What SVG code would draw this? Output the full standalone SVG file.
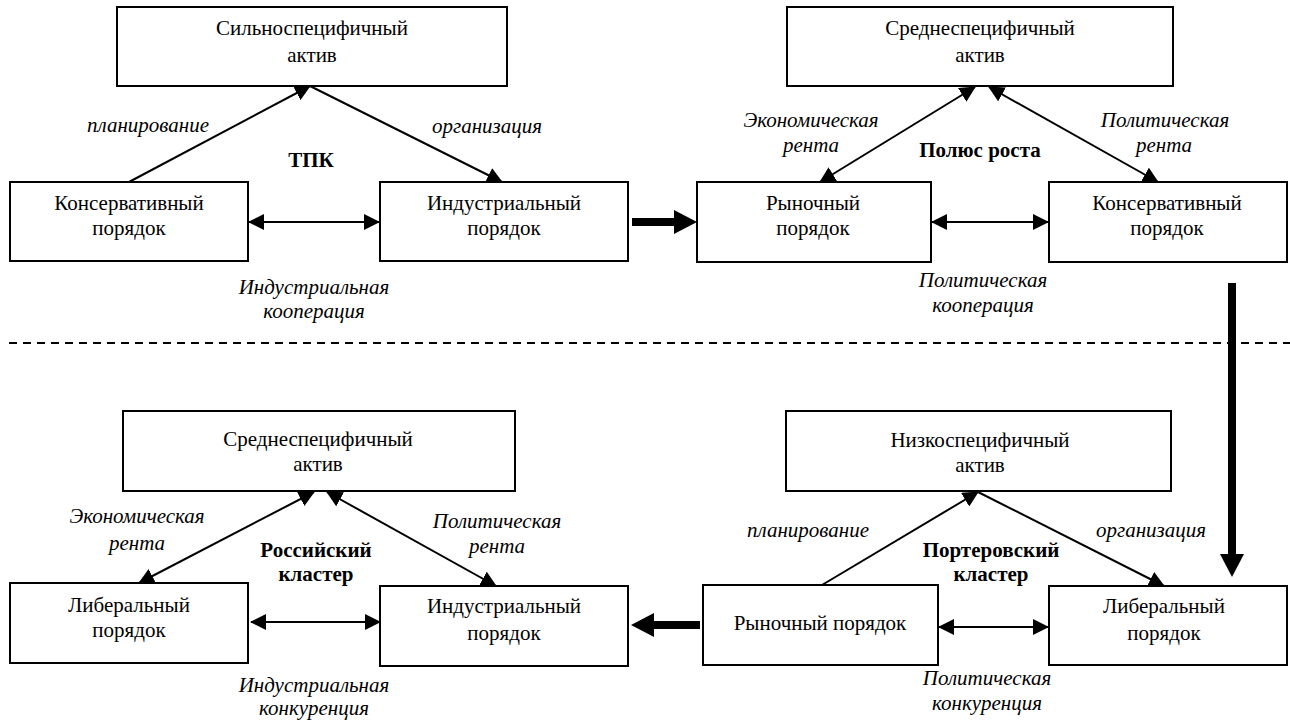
<svg xmlns="http://www.w3.org/2000/svg" width="1290" height="720" viewBox="0 0 1290 720">
<defs>
<marker id="ah" markerUnits="userSpaceOnUse" markerWidth="16" markerHeight="16" viewBox="0 0 16 16" refX="15" refY="8" orient="auto-start-reverse">
<path d="M0,0 L16,8 L0,16 z" fill="#000"/>
</marker>
<marker id="big" markerUnits="userSpaceOnUse" markerWidth="23" markerHeight="24" viewBox="0 0 23 24" refX="2" refY="12" orient="auto">
<path d="M0,0 L23,12 L0,24 z" fill="#000"/>
</marker>
<style>
.box{fill:#fff;stroke:#000;stroke-width:2}
.t{font-size:21px;text-anchor:middle;fill:#000}
.i{font-style:italic}
.b{font-weight:bold}
.c{stroke:#000;stroke-width:2;fill:none}
.thick{stroke:#000;stroke-width:8;fill:none}
</style>
</defs>
<rect width="1290" height="720" fill="#fff"/>

<g id="connectors">
<line class="c" x1="129" y1="182" x2="310" y2="86" marker-end="url(#ah)"/>
<line class="c" x1="310" y1="86" x2="502" y2="182" marker-end="url(#ah)"/>
<line class="c" x1="249" y1="222" x2="379" y2="222" marker-start="url(#ah)" marker-end="url(#ah)"/>
<line class="thick" x1="632" y1="222" x2="676" y2="222" marker-end="url(#big)"/>
<line class="c" x1="820" y1="182" x2="975" y2="87" marker-start="url(#ah)" marker-end="url(#ah)"/>
<line class="c" x1="989" y1="87" x2="1158" y2="182" marker-start="url(#ah)" marker-end="url(#ah)"/>
<line class="c" x1="932" y1="222" x2="1048" y2="222" marker-start="url(#ah)" marker-end="url(#ah)"/>
<line class="thick" x1="1232" y1="283" x2="1232" y2="556" marker-end="url(#big)"/>
<line x1="9" y1="343" x2="1290" y2="343" stroke="#000" stroke-width="2" stroke-dasharray="8 6"/>
<line class="c" x1="139" y1="583" x2="314" y2="492" marker-start="url(#ah)" marker-end="url(#ah)"/>
<line class="c" x1="327" y1="492" x2="496" y2="586" marker-start="url(#ah)" marker-end="url(#ah)"/>
<line class="c" x1="251" y1="622" x2="380" y2="622" marker-start="url(#ah)" marker-end="url(#ah)"/>
<line class="thick" x1="700" y1="625" x2="652" y2="625" marker-end="url(#big)"/>
<line class="c" x1="822" y1="585" x2="978" y2="492" marker-end="url(#ah)"/>
<line class="c" x1="978" y1="492" x2="1164" y2="586" marker-end="url(#ah)"/>
<line class="c" x1="939" y1="627" x2="1048" y2="627" marker-start="url(#ah)" marker-end="url(#ah)"/>
</g>

<g font-family="'Liberation Serif', 'DejaVu Serif', serif">
<g id="n1"><rect class="box" x="117" y="7" width="390" height="79"/>
<text class="t" x="312" y="35">Сильноспецифичный</text><text class="t" x="312" y="62">актив</text></g>
<g id="n2"><rect class="box" x="10" y="182" width="238" height="79"/>
<text class="t" x="129" y="210">Консервативный</text><text class="t" x="129" y="235">порядок</text></g>
<g id="n3"><rect class="box" x="380" y="182" width="248" height="79"/>
<text class="t" x="504" y="210">Индустриальный</text><text class="t" x="504" y="235">порядок</text></g>
<g id="n4"><rect class="box" x="787" y="7" width="386" height="79"/>
<text class="t" x="980" y="35">Среднеспецифичный</text><text class="t" x="980" y="62">актив</text></g>
<g id="n5"><rect class="box" x="697" y="182" width="234" height="80"/>
<text class="t" x="813" y="210">Рыночный</text><text class="t" x="813" y="235">порядок</text></g>
<g id="n6"><rect class="box" x="1049" y="182" width="238" height="80"/>
<text class="t" x="1167" y="210">Консервативный</text><text class="t" x="1167" y="235">порядок</text></g>
<g id="n7"><rect class="box" x="123" y="411" width="392" height="80"/>
<text class="t" x="318" y="446">Среднеспецифичный</text><text class="t" x="318" y="471">актив</text></g>
<g id="n8"><rect class="box" x="10" y="583" width="238" height="80"/>
<text class="t" x="129" y="612">Либеральный</text><text class="t" x="129" y="637">порядок</text></g>
<g id="n9"><rect class="box" x="380" y="586" width="248" height="80"/>
<text class="t" x="504" y="613">Индустриальный</text><text class="t" x="504" y="640">порядок</text></g>
<g id="n10"><rect class="box" x="786" y="411" width="385" height="80"/>
<text class="t" x="980" y="447">Низкоспецифичный</text><text class="t" x="980" y="472">актив</text></g>
<g id="n11"><rect class="box" x="703" y="585" width="235" height="80"/>
<text class="t" x="820" y="630">Рыночный порядок</text></g>
<g id="n12"><rect class="box" x="1049" y="586" width="238" height="79"/>
<text class="t" x="1164" y="613">Либеральный</text><text class="t" x="1164" y="640">порядок</text></g>

<g id="labels">
<text class="t i" x="148" y="132">планирование</text>
<text class="t i" x="487" y="133">организация</text>
<text class="t b" x="311" y="167">ТПК</text>
<text class="t i" x="314" y="294">Индустриальная</text>
<text class="t i" x="314" y="318">кооперация</text>
<text class="t i" x="811" y="127">Экономическая</text>
<text class="t i" x="811" y="152">рента</text>
<text class="t i" x="1165" y="127">Политическая</text>
<text class="t i" x="1164" y="152">рента</text>
<text class="t b" x="980" y="157">Полюс роста</text>
<text class="t i" x="983" y="287">Политическая</text>
<text class="t i" x="983" y="312">кооперация</text>
<text class="t i" x="137" y="523">Экономическая</text>
<text class="t i" x="137" y="550">рента</text>
<text class="t i" x="497" y="528">Политическая</text>
<text class="t i" x="497" y="553">рента</text>
<text class="t b" x="316" y="557">Российский</text>
<text class="t b" x="316" y="581">кластер</text>
<text class="t i" x="314" y="692">Индустриальная</text>
<text class="t i" x="314" y="715">конкуренция</text>
<text class="t i" x="808" y="537">планирование</text>
<text class="t i" x="1151" y="537">организация</text>
<text class="t b" x="991" y="557">Портеровский</text>
<text class="t b" x="991" y="581">кластер</text>
<text class="t i" x="987" y="685">Политическая</text>
<text class="t i" x="987" y="710">конкуренция</text>
</g>
</g>
</svg>
